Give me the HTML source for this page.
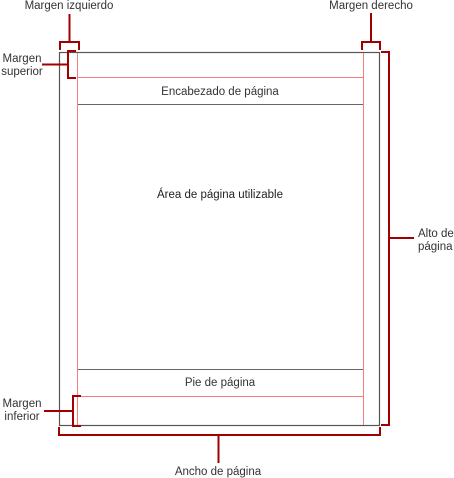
<!DOCTYPE html>
<html><head><meta charset="utf-8"><style>
html,body{margin:0;padding:0;background:#fff;width:454px;height:478px;overflow:hidden}
svg{display:block}
text{font-family:"Liberation Sans",sans-serif;font-size:11.5px;fill:#333}
</style></head><body>
<svg width="454" height="478" viewBox="0 0 454 478">
<rect x="59.5" y="52.5" width="320" height="373" fill="none" stroke="#555" stroke-width="1.2"/>
<line x1="77.5" y1="53" x2="77.5" y2="425" stroke="#f08080"/>
<line x1="363.5" y1="53" x2="363.5" y2="425" stroke="#f08080"/>
<line x1="78" y1="77.5" x2="363" y2="77.5" stroke="#f08080"/>
<line x1="78" y1="104.5" x2="363" y2="104.5" stroke="#666"/>
<line x1="78" y1="369.5" x2="363" y2="369.5" stroke="#666"/>
<line x1="78" y1="396.5" x2="363" y2="396.5" stroke="#f08080"/>
<g fill="none" stroke="#a00000" stroke-width="2">
<path d="M60,50 V42 H79 V50 M69.5,42 V14"/>
<path d="M76,51 H68 V78 H76 M68,64.5 H42"/>
<path d="M362,50 V42 H380 V50 M371,42 V13"/>
<path d="M381,52 H389 V425 H381 M389,238 H414"/>
<path d="M59,427 V435 H380 V427 M218.5,435 V463"/>
<path d="M81,396 H73 V426 H81 M73,411 H44"/>
</g>
<text x="69" y="9" text-anchor="middle">Margen izquierdo</text>
<text x="371" y="9" text-anchor="middle">Margen derecho</text>
<text x="22" y="62" text-anchor="middle">Margen</text>
<text x="22" y="75" text-anchor="middle">superior</text>
<text x="22" y="407" text-anchor="middle">Margen</text>
<text x="22" y="420" text-anchor="middle">inferior</text>
<text x="418" y="237">Alto de</text>
<text x="418" y="250">página :</text>
<text x="218" y="475" text-anchor="middle">Ancho de página</text>
<text x="220" y="95" text-anchor="middle">Encabezado de página</text>
<text x="220" y="386" text-anchor="middle">Pie de página</text>
<text x="220" y="198" text-anchor="middle" style="fill:#222">Área de página utilizable</text>
</svg>
</body></html>
